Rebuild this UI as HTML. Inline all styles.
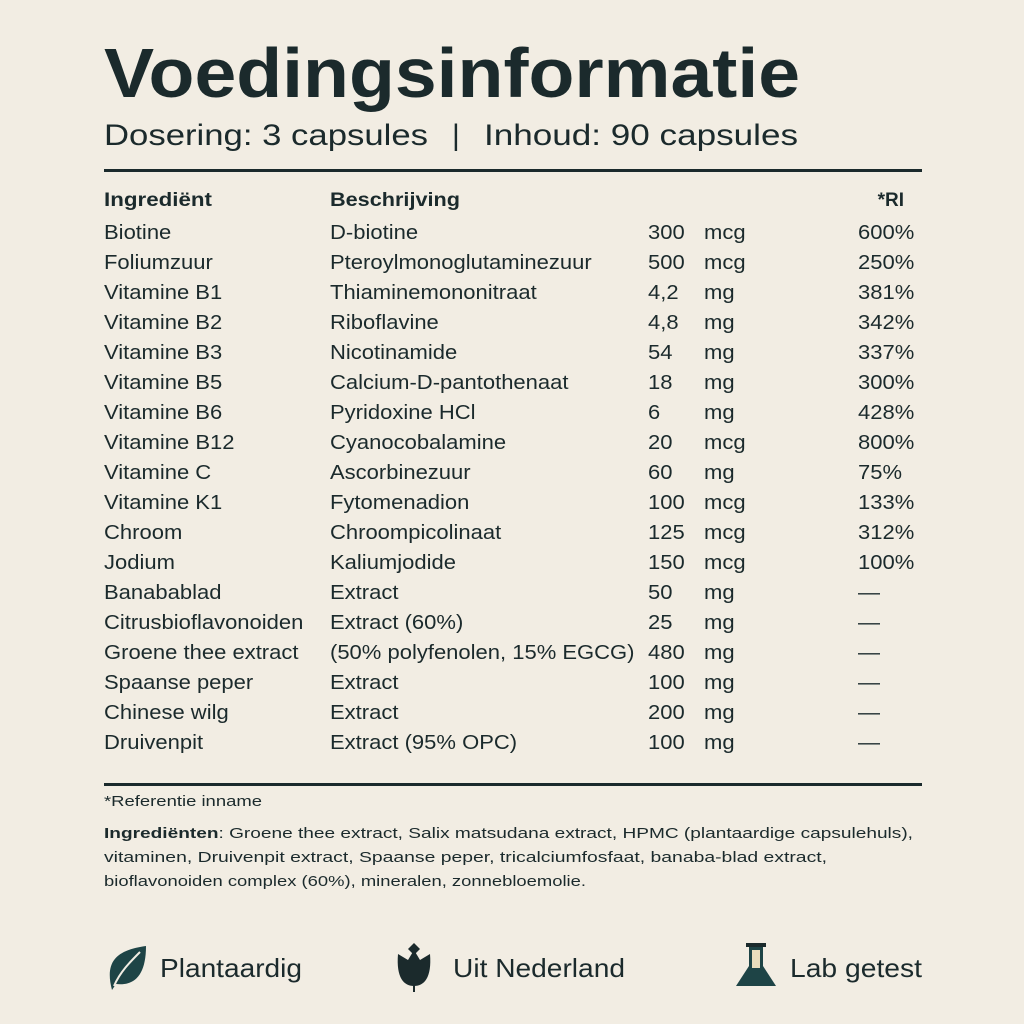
<!DOCTYPE html>
<html><head><meta charset="utf-8"><style>
html,body{margin:0;padding:0;background:#f2ede3}
svg{display:block}
text{font-family:"Liberation Sans",sans-serif;fill:#1b2a2c}
</style></head><body>
<svg id="s" width="1024" height="1024" viewBox="0 0 1024 1024">
<rect width="1024" height="1024" fill="#f2ede3"/>
<text x="104" y="97" font-size="70" font-weight="bold" textLength="696" lengthAdjust="spacingAndGlyphs">Voedingsinformatie</text>
<text x="104" y="145" font-size="30" textLength="324" lengthAdjust="spacingAndGlyphs">Dosering: 3 capsules</text>
<text x="452" y="145" font-size="30">|</text>
<text x="484" y="145" font-size="30" textLength="314" lengthAdjust="spacingAndGlyphs">Inhoud: 90 capsules</text>
<rect x="104" y="169" width="818" height="3" fill="#1b2a2c"/>
<text x="104" y="206" font-size="19" font-weight="bold" textLength="108" lengthAdjust="spacingAndGlyphs">Ingrediënt</text>
<text x="330" y="206" font-size="19" font-weight="bold" textLength="130" lengthAdjust="spacingAndGlyphs">Beschrijving</text>
<text x="904" y="206" font-size="19" font-weight="bold" text-anchor="end">*RI</text>
<g id="rows"></g>
<rect x="104" y="783" width="818" height="3" fill="#1b2a2c"/>
<text x="104" y="806" font-size="15" textLength="158" lengthAdjust="spacingAndGlyphs">*Referentie inname</text>
<text x="104" y="838" font-size="15" textLength="809" lengthAdjust="spacingAndGlyphs"><tspan font-weight="bold">Ingrediënten</tspan>: Groene thee extract, Salix matsudana extract, HPMC (plantaardige capsulehuls),</text>
<text x="104" y="862" font-size="15" textLength="723" lengthAdjust="spacingAndGlyphs">vitaminen, Druivenpit extract, Spaanse peper, tricalciumfosfaat, banaba-blad extract,</text>
<text x="104" y="886" font-size="15" textLength="482" lengthAdjust="spacingAndGlyphs">bioflavonoiden complex (60%), mineralen, zonnebloemolie.</text>
<g>
<path d="M112 990 C104 960 118 950 146 946 C146 976 134 986 116 984 Z" fill="#1e4446"/>
<path d="M114 986 C120 972 130 962 140 952" stroke="#f2ede3" stroke-width="2" fill="none"/>
<text x="160" y="977" font-size="26" textLength="142" lengthAdjust="spacingAndGlyphs">Plantaardig</text>
</g>
<g>
<path d="M398 954 L408 960 L414 950 L420 960 L430 954 C432 978 424 986 414 986 C404 986 396 978 398 954 Z" fill="#1b2a2c"/>
<path d="M414 943 L420 949 L414 955 L408 949 Z" fill="#1b2a2c"/>
<rect x="413" y="984" width="2" height="8" fill="#1b2a2c"/>
<text x="453" y="977" font-size="26" textLength="172" lengthAdjust="spacingAndGlyphs">Uit Nederland</text>
</g>
<g>
<path d="M749 946 L763 946 L763 966 L776 986 L736 986 L749 966 Z" fill="#1e4446"/>
<path d="M752 950 L760 950 L760 968 L752 968 Z" fill="#e9dcbc"/>
<rect x="746" y="943" width="20" height="4" fill="#1b2a2c"/>
<text x="790" y="977" font-size="26" textLength="132" lengthAdjust="spacingAndGlyphs">Lab getest</text>
</g>
</svg>
<script>
const ingredients=["Biotine","Foliumzuur","Vitamine B1","Vitamine B2","Vitamine B3","Vitamine B5","Vitamine B6","Vitamine B12","Vitamine C","Vitamine K1","Chroom","Jodium","Banabablad","Citrusbioflavonoiden","Groene thee extract","Spaanse peper","Chinese wilg","Druivenpit"];
const descriptions=["D-biotine","Pteroylmonoglutaminezuur","Thiaminemononitraat","Riboflavine","Nicotinamide","Calcium-D-pantothenaat","Pyridoxine HCl","Cyanocobalamine","Ascorbinezuur","Fytomenadion","Chroompicolinaat","Kaliumjodide","Extract","Extract (60%)","(50% polyfenolen, 15% EGCG)","Extract","Extract","Extract (95% OPC)"];
const amounts=["300","500","4,2","4,8","54","18","6","20","60","100","125","150","50","25","480","100","200","100"];
const units=["mcg","mcg","mg","mg","mg","mg","mg","mcg","mg","mcg","mcg","mcg","mg","mg","mg","mg","mg","mg"];
const riValues=["600%","250%","381%","342%","337%","300%","428%","800%","75%","133%","312%","100%","—","—","—","—","—","—"];
const g=document.getElementById('rows');
const NS="http://www.w3.org/2000/svg";
function t(x,y,s,name){
  const e=document.createElementNS(NS,'text');
  e.setAttribute('x',x);e.setAttribute('y',y);e.setAttribute('font-size','20');
  e.textContent=s;
  
  
  g.appendChild(e);
  const w=e.getComputedTextLength();
  if(w>0){e.setAttribute('textLength',(w*1.1).toFixed(1));e.setAttribute('lengthAdjust','spacingAndGlyphs');}
  return e;
}
ingredients.forEach((ing,i)=>{
  const y=239+i*30;
  t(104,y,ing,'ingredient-name');
  t(330,y,descriptions[i],'ingredient-description');
  t(648,y,amounts[i],'ingredient-amount');
  t(704,y,units[i],'ingredient-unit');
  t(858,y,riValues[i],'ingredient-ri');
});
</script>
</body></html>
